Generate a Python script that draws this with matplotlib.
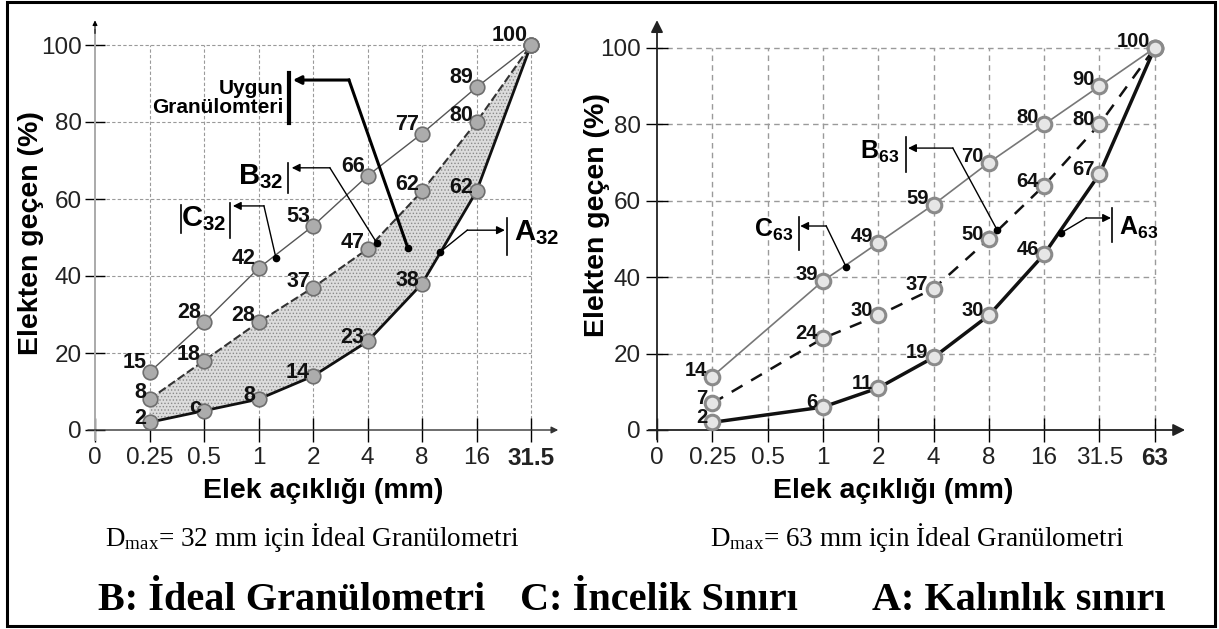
import matplotlib
matplotlib.use("Agg")
from matplotlib import pyplot as plt
from matplotlib.patches import Rectangle
import numpy as np

plt.rcParams['font.family'] = ['Liberation Sans', 'DejaVu Sans']
plt.rcParams['mathtext.default'] = 'regular'
plt.rcParams['hatch.linewidth'] = 0.6

# sieve openings (mm), drawn as equally spaced categories
sieves_32 = ['0', '0.25', '0.5', '1', '2', '4', '8', '16', '31.5']
sieves_63 = ['0', '0.25', '0.5', '1', '2', '4', '8', '16', '31.5', '63']
yticks = [0, 20, 40, 60, 80, 100]

# Dmax = 32 mm
pos_32 = [1, 2, 3, 4, 5, 6, 7, 8]
c32 = [15, 28, 42, 53, 66, 77, 89, 100]   # C: incelik siniri
b32 = [8, 18, 28, 37, 47, 62, 80, 100]    # B: ideal
a32 = [2, 5, 8, 14, 23, 38, 62, 100]      # A: kalinlik siniri
c32_text = ['15', '28', '42', '53', '66', '77', '89', '100']
b32_text = ['8', '18', '28', '37', '47', '62', '80']
a32_text = ['2', 'c', '8', '14', '23', '38', '62']

# Dmax = 63 mm (no point at 0.5 mm)
pos_63 = [1, 3, 4, 5, 6, 7, 8, 9]
c63 = [14, 39, 49, 59, 70, 80, 90, 100]
b63 = [7, 24, 30, 37, 50, 64, 80, 100]
a63 = [2, 6, 11, 19, 30, 46, 67, 100]
c63_text = ['14', '39', '49', '59', '70', '80', '90', '100']
b63_text = ['7', '24', '30', '37', '50', '64', '80']
a63_text = ['2', '6', '11', '19', '30', '46', '67']

W, H = 1219, 629
fig = plt.figure(figsize=(W / 100, H / 100), dpi=100)


def px_axes(x0, x1, y_top, y_bot):
    return fig.add_axes([x0 / W, 1 - y_bot / H, (x1 - x0) / W, (y_bot - y_top) / H])


def setup(ax, labels, xmax, ymax, bold_last):
    ax.set_xlim(0, xmax)
    ax.set_ylim(0, ymax)
    for s in ax.spines.values():
        s.set_visible(False)
    ax.set_xticks(range(len(labels)))
    ax.set_xticklabels(labels)
    ax.set_yticks(yticks)
    ax.tick_params(axis='x', direction='inout', length=17, width=1, color='k',
                   pad=3.5, labelsize=17.5, labelcolor='#222')
    ax.tick_params(axis='y', direction='inout', length=15, width=1, color='k',
                   pad=2, labelsize=17.5, labelcolor='#222')
    if bold_last:
        ax.get_xticklabels()[-1].set_fontweight('bold')
    ax.patch.set_alpha(0)


def put_labels(ax, pos, vals, texts, dx, dy, size):
    for x, v, t in zip(pos, vals, texts):
        ax.annotate(t, (x, v), xytext=(dx, dy), textcoords='offset pixels',
                    ha='right', va='baseline', fontsize=size, fontweight='bold',
                    color='#111', zorder=6)


def callout(ax, dot, corner, end, lw=1.0):
    ax.plot([dot[0], corner[0]], [dot[1], corner[1]], color='k', lw=lw, zorder=5)
    ax.annotate('', xy=end, xytext=corner,
                arrowprops=dict(arrowstyle='-|>', color='k', lw=lw,
                                mutation_scale=12, shrinkA=0, shrinkB=0), zorder=5)
    ax.plot(*dot, 'o', color='k', ms=4.5, zorder=6)


def bar(ax, x, y0, y1, lw=1.2):
    ax.plot([x, x], [y0, y1], color='k', lw=lw, zorder=5)


# ---------------- left chart: Dmax = 32 mm ----------------
ax1 = px_axes(95, 560, 20, 430)
setup(ax1, sieves_32, 465 / 54.5, 410 / 3.85, True)
ax1.hlines(yticks[1:], 0, 8, colors='#9a9a9a', lw=0.8, linestyles=(0, (3, 2)), zorder=0)
ax1.vlines(pos_32, 0, 100, colors='#9a9a9a', lw=0.8, linestyles=(0, (3, 2)), zorder=0)

ax1.annotate('', xy=(8.5, 0), xytext=(-0.13, 0), annotation_clip=False,
             arrowprops=dict(arrowstyle='-|>', color='#333', lw=1, mutation_scale=10,
                             shrinkA=0, shrinkB=0))
ax1.plot([0, 0], [-2.5, 104], color='#aaaaaa', lw=1.4, clip_on=False, zorder=2)
ax1.annotate('', xy=(0, 106.4), xytext=(0, 103), annotation_clip=False,
             arrowprops=dict(arrowstyle='-|>', color='k', lw=0.8, mutation_scale=7,
                             shrinkA=0, shrinkB=0))

ax1.fill_between(pos_32, a32, b32, facecolor='#dcdcdc', edgecolor='#8a8a8a',
                 hatch='.....', lw=0, zorder=1)
ax1.plot(pos_32, c32, color='#555', lw=1.0, zorder=3)
ax1.plot(pos_32, b32, color='#333', lw=1.5, ls=(0, (4, 1.5)), zorder=3)
ax1.plot(pos_32, a32, color='#111', lw=2.0, zorder=3)
for vals in (c32, b32, a32):
    ax1.plot(pos_32, vals, ls='none', marker='o', ms=10.5, mfc='#acacac',
             mec='#6e6e6e', mew=1.2, zorder=4, clip_on=False)

put_labels(ax1, pos_32, c32, c32_text, -3, 4, 15.5)
put_labels(ax1, pos_32, b32, b32_text, -3, 1, 15.5)
put_labels(ax1, pos_32, a32, a32_text, -3, -2, 15.5)

# Uygun granulometri
callout(ax1, (5.74, 47.3), (4.66, 90.9), (3.63, 90.9), lw=2.2)
bar(ax1, 3.56, 79.7, 92.7, lw=3)
ax1.text(3.45, 86.3, 'Uygun\nGranülomteri', ha='right', va='center',
         fontsize=15, fontweight='bold', linespacing=1.0)
# B32
callout(ax1, (5.17, 48.6), (4.31, 68.1), (3.61, 68.1))
bar(ax1, 3.54, 61.6, 69.4)
ax1.text(3.03, 65.7, 'B$_{32}$', ha='center', va='center', fontsize=21, fontweight='bold')
# C32
callout(ax1, (3.32, 44.7), (3.10, 58.2), (2.53, 58.2))
bar(ax1, 2.48, 49.9, 59.0)
bar(ax1, 1.58, 51.2, 58.4)
ax1.text(2.0, 55, 'C$_{32}$', ha='center', va='center', fontsize=21, fontweight='bold')
# A32
callout(ax1, (6.33, 46.2), (6.83, 51.9), (7.52, 51.9))
bar(ax1, 7.56, 45.5, 55.0)
ax1.text(8.1, 51.2, 'A$_{32}$', ha='center', va='center', fontsize=21, fontweight='bold')

# ---------------- right chart: Dmax = 63 mm ----------------
ax2 = px_axes(657, 1190, 20, 430)
setup(ax2, sieves_63, 533 / 55.3, 410 / 3.82, True)
ax2.tick_params(axis='y', length=16.5, pad=3.5)
ax2.hlines(yticks[1:], 0, 9, colors='#9a9a9a', lw=1.0, linestyles=(0, (4, 3)), zorder=0)
ax2.vlines(range(1, 10), 0, 100, colors='#9a9a9a', lw=1.0, linestyles=(0, (4, 3)), zorder=0)

ax2.annotate('', xy=(9.55, 0), xytext=(-0.15, 0), annotation_clip=False,
             arrowprops=dict(arrowstyle='-|>', color='#222', lw=1.3, mutation_scale=18,
                             shrinkA=0, shrinkB=0))
ax2.annotate('', xy=(0, 107.3), xytext=(0, -2.5), annotation_clip=False,
             arrowprops=dict(arrowstyle='-|>', color='#222', lw=1.3, mutation_scale=18,
                             shrinkA=0, shrinkB=0))

ax2.plot(pos_63, c63, color='#777', lw=1.2, zorder=3)
ax2.plot(pos_63, b63, color='#111', lw=1.8, ls=(0, (5, 4)), zorder=3)
ax2.plot(pos_63, a63, color='#111', lw=2.5, zorder=3)
for vals in (c63, b63, a63):
    ax2.plot(pos_63, vals, ls='none', marker='o', ms=10.5, mfc='#e6e6e6',
             mec='#8a8a8a', mew=2.2, zorder=4, clip_on=False)

put_labels(ax2, pos_63, c63, c63_text, -5, 1, 14.5)
put_labels(ax2, pos_63, b63, b63_text, -5, -1, 14.5)
put_labels(ax2, pos_63, a63, a63_text, -5, -1, 14.5)

# B63
callout(ax2, (6.15, 52.4), (5.35, 73.8), (4.54, 73.8))
bar(ax2, 4.50, 67.5, 76.7)
ax2.text(4.03, 72.8, 'B$_{63}$', ha='center', va='center', fontsize=18, fontweight='bold')
# C63
callout(ax2, (3.42, 42.7), (3.06, 53.4), (2.59, 53.4))
bar(ax2, 2.57, 47.1, 55.8)
ax2.text(2.1, 52.4, 'C$_{63}$', ha='center', va='center', fontsize=18, fontweight='bold')
# A63
callout(ax2, (7.31, 51.6), (7.76, 55.5), (8.21, 55.5))
bar(ax2, 8.23, 49.2, 58.1)
ax2.text(8.7, 52.9, 'A$_{63}$', ha='center', va='center', fontsize=18, fontweight='bold')

# ---------------- axis titles and captions ----------------
fig.text(323 / W, 1 - 491 / H, 'Elek açıklığı (mm)', ha='center', va='center',
         fontsize=20.5, fontweight='bold')
fig.text(893 / W, 1 - 491 / H, 'Elek açıklığı (mm)', ha='center', va='center',
         fontsize=20.5, fontweight='bold')
fig.text(31 / W, 1 - 233 / H, 'Elekten geçen (%)', rotation=90, ha='center', va='center',
         fontsize=20.5, fontweight='bold')
fig.text(597 / W, 1 - 215 / H, 'Elekten geçen (%)', rotation=90, ha='center', va='center',
         fontsize=20.5, fontweight='bold')

fig.text(312 / W, 1 - 538 / H, 'D$_{max}$= 32 mm için İdeal Granülometri', ha='center',
         va='center', fontsize=19.5, family='Liberation Serif')
fig.text(917 / W, 1 - 538 / H, 'D$_{max}$= 63 mm için İdeal Granülometri', ha='center',
         va='center', fontsize=19.5, family='Liberation Serif')

for x, t in [(98, 'B: İdeal Granülometri'), (520, 'C: İncelik Sınırı'),
             (872, 'A: Kalınlık sınırı')]:
    fig.text(x / W, 1 - 601 / H, t, ha='left', va='center', fontsize=29,
             fontweight='bold', family='Liberation Serif')

fig.add_artist(Rectangle((6.5 / W, 1 - 625.5 / H), (1215 - 6.5) / W, (625.5 - 1.5) / H,
                         transform=fig.transFigure, fill=False, lw=2.2, ec='k'))

fig.savefig('out.png', dpi=100)
